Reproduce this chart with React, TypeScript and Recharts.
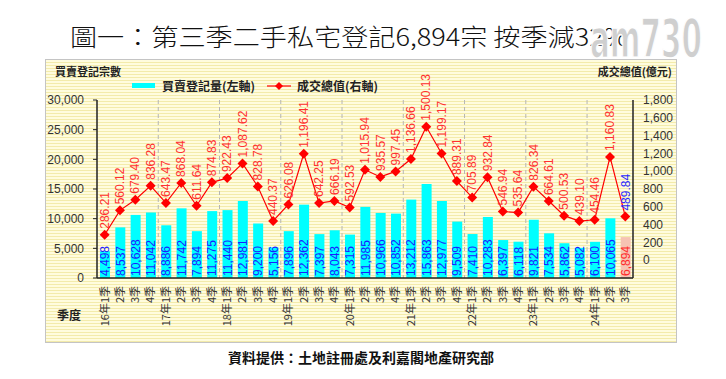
import { ComposedChart, Bar, Line, XAxis, YAxis, CartesianGrid, Cell, LabelList } from "recharts"

const quarters = [
  "16年1季", "16年2季", "16年3季", "16年4季",
  "17年1季", "17年2季", "17年3季", "17年4季",
  "18年1季", "18年2季", "18年3季", "18年4季",
  "19年1季", "19年2季", "19年3季", "19年4季",
  "20年1季", "20年2季", "20年3季", "20年4季",
  "21年1季", "21年2季", "21年3季", "21年4季",
  "22年1季", "22年2季", "22年3季", "22年4季",
  "23年1季", "23年2季", "23年3季", "23年4季",
  "24年1季", "24年2季", "24年3季",
]

// 買賣登記量 (left axis)
const registrations = [
  4498, 8537, 10628, 11042,
  8886, 11742, 7894, 11275,
  11440, 12981, 9200, 5156,
  7896, 12362, 7397, 8043,
  7315, 11985, 10966, 10852,
  13212, 15863, 12977, 9509,
  7410, 10283, 6397, 6118,
  9821, 7534, 5862, 5082,
  6100, 10065, 6894,
]

// 成交總值 (億元, right axis)
const totals = [
  286.21, 560.12, 679.4, 836.28,
  643.47, 868.04, 611.64, 874.83,
  922.43, 1087.62, 828.78, 440.37,
  626.08, 1196.41, 642.25, 666.19,
  592.53, 1015.94, 935.57, 997.45,
  1136.66, 1500.13, 1199.17, 889.31,
  705.89, 932.84, 546.94, 535.64,
  826.34, 664.61, 500.53, 439.1,
  454.46, 1160.83, 489.84,
]

const leftTicks = [0, 5000, 10000, 15000, 20000, 25000, 30000]
const rightTicks = [0, 200, 400, 600, 800, 1000, 1200, 1400, 1600, 1800]

const data = quarters.map((q, i) => ({ q, reg: registrations[i], val: totals[i] }))
const lastIdx = quarters.length - 1
const yearStarts = quarters.map((q, i) => (i > 0 && q.endsWith("年1季") ? i : -1)).filter((i) => i > 0)

const numFont = "'Liberation Sans', Arial, sans-serif"
const cjkFont = "'Noto Sans CJK TC', 'Noto Sans', sans-serif"

const fmtInt = (v: number) => v.toLocaleString("en-US")
const fmtDec = (v: number) => v.toLocaleString("en-US", { minimumFractionDigits: 2, maximumFractionDigits: 2 })

const XTick = (p: any) => {
  const { x, y, payload } = p
  const s: string = payload.value
  const label = s.endsWith("年1季") ? s : s.slice(s.indexOf("年") + 1)
  return (
    <text transform={`translate(${x},${y}) rotate(-90)`} textAnchor="end" dy="0.35em" fontSize={11} fill="#333" fontFamily={cjkFont}>
      {label}
    </text>
  )
}

const BarLabel = (p: any) => {
  const { x, y, width, height, value, index } = p
  const cx = x + width / 2
  const by = y + height - 2
  return (
    <text transform={`translate(${cx},${by}) rotate(-90)`} textAnchor="start" dy="0.35em" fontSize={12} fill={index === lastIdx ? "#ff2a2a" : "#1c1cff"} fontFamily={numFont}>
      {fmtInt(value)}
    </text>
  )
}

const LineLabel = (p: any) => {
  const { x, y, value, index } = p
  return (
    <text transform={`translate(${x},${y - 6}) rotate(-90)`} textAnchor="start" dy="0.35em" fontSize={12} fill={index === lastIdx ? "#2a2aff" : "#ff3030"} fontFamily={numFont}>
      {fmtDec(value)}
    </text>
  )
}

const Diamond = (p: any) => {
  const { cx, cy, index } = p
  const r = 5
  return <path key={`dm${index}`} d={`M${cx},${cy - r}L${cx + r},${cy}L${cx},${cy + r}L${cx - r},${cy}Z`} fill="#ff0000" />
}

export default function App() {
  return (
    <div style={{ position: "absolute", left: 0, top: 0, width: 726, height: 379, background: "#fff", overflow: "hidden" }}>
      <div
        style={{
          position: "absolute", left: 45, top: 59, width: 630, height: 282,
          border: "1px solid #c4c4c4",
          background: "repeating-linear-gradient(180deg, #fffcde 0px, #fffcde 2px, #f3ebab 2px, #f3ebab 3px)",
        }}
      />
      <div style={{ position: "absolute", left: 70, top: 23, fontSize: 24, lineHeight: "26px", fontFamily: cjkFont, fontWeight: 300, color: "#111", whiteSpace: "nowrap", transform: "scaleX(1.13)", transformOrigin: "left center" }}>
        圖一：第三季二手私宅登記6,894宗 按季減32%
      </div>
      <div style={{ position: "absolute", left: 55, top: 63, fontSize: 11, fontWeight: 700, fontFamily: cjkFont, color: "#222", whiteSpace: "nowrap" }}>買賣登記宗數</div>
      <div style={{ position: "absolute", right: 726 - 672, top: 63, fontSize: 11, fontWeight: 700, fontFamily: cjkFont, color: "#222", whiteSpace: "nowrap" }}>成交總值(億元)</div>
      <div style={{ position: "absolute", left: 57, top: 306, fontSize: 12, fontWeight: 700, fontFamily: cjkFont, color: "#222" }}>季度</div>
      <div style={{ position: "absolute", left: 132, top: 83, width: 23, height: 5, background: "#00ffff" }} />
      <div style={{ position: "absolute", left: 162, top: 77, fontSize: 12, fontWeight: 700, fontFamily: cjkFont, color: "#222", whiteSpace: "nowrap" }}>買賣登記量(左軸)</div>
      <svg style={{ position: "absolute", left: 266, top: 80 }} width={26} height={12}>
        <line x1={1} y1={6} x2={25} y2={6} stroke="#ff0000" strokeWidth={1.2} />
        <path d="M13,2L17,6L13,10L9,6Z" fill="#ff0000" />
      </svg>
      <div style={{ position: "absolute", left: 297, top: 77, fontSize: 12, fontWeight: 700, fontFamily: cjkFont, color: "#222", whiteSpace: "nowrap" }}>成交總值(右軸)</div>
      <div style={{ position: "absolute", left: 0, width: 722, top: 347, textAlign: "center", fontSize: 14, fontWeight: 700, fontFamily: cjkFont, color: "#111" }}>
        資料提供：土地註冊處及利嘉閣地產研究部
      </div>
      <div style={{ position: "absolute", left: 0, top: 0 }}>
        <ComposedChart width={726} height={379} data={data} margin={{ top: 100, right: 48, bottom: 51, left: 37 }}>
          <CartesianGrid
            horizontal={false}
            stroke="#b5b5b5"
            strokeDasharray="4 3"
            verticalCoordinatesGenerator={(props: any) => {
              const off = props.offset || { left: 97, width: 536 }
              return yearStarts.map((i) => off.left + (i * off.width) / quarters.length)
            }}
          />
          <XAxis dataKey="q" interval={0} tick={<XTick />} tickLine={false} tickSize={0} tickMargin={8} height={50} axisLine={{ stroke: "#222", strokeWidth: 1.5 }} />
          <YAxis
            yAxisId="l"
            domain={[0, 30000]}
            ticks={leftTicks}
            interval={0}
            width={60}
            tickFormatter={fmtInt}
            tick={{ fontSize: 12, fill: "#333", fontFamily: numFont }}
            tickSize={4}
            tickMargin={9}
            axisLine={{ stroke: "#222", strokeWidth: 1.5 }}
            tickLine={{ stroke: "#222" }}
          />
          <YAxis
            yAxisId="r"
            orientation="right"
            domain={[-200, 1800]}
            ticks={rightTicks}
            interval={0}
            width={45}
            tickFormatter={fmtInt}
            tick={{ fontSize: 12, fill: "#333", fontFamily: numFont }}
            tickSize={4}
            tickMargin={6}
            axisLine={{ stroke: "#222", strokeWidth: 1.5 }}
            tickLine={false}
          />
          <Bar yAxisId="l" dataKey="reg" fill="#00ffff" barSize={10} isAnimationActive={false}>
            {data.map((d, i) => (
              <Cell key={d.q} fill={i === lastIdx ? "#f6c3b3" : "#00ffff"} />
            ))}
            <LabelList dataKey="reg" content={<BarLabel />} />
          </Bar>
          <Line yAxisId="r" dataKey="val" stroke="#ff0000" strokeWidth={1.2} dot={Diamond} activeDot={false} isAnimationActive={false}>
            <LabelList dataKey="val" content={<LineLabel />} />
          </Line>
        </ComposedChart>
      </div>
      <svg style={{ position: "absolute", left: 0, top: 0 }} width={726} height={379}>
        <text x={590} y={57} fontSize={54} fontWeight={700} fontFamily="'DejaVu Sans Condensed', sans-serif" fill="#cfcfcf" stroke="#ffffff" strokeWidth={1.5} textLength={112} lengthAdjust="spacingAndGlyphs">
          am730
        </text>
      </svg>
    </div>
  )
}
